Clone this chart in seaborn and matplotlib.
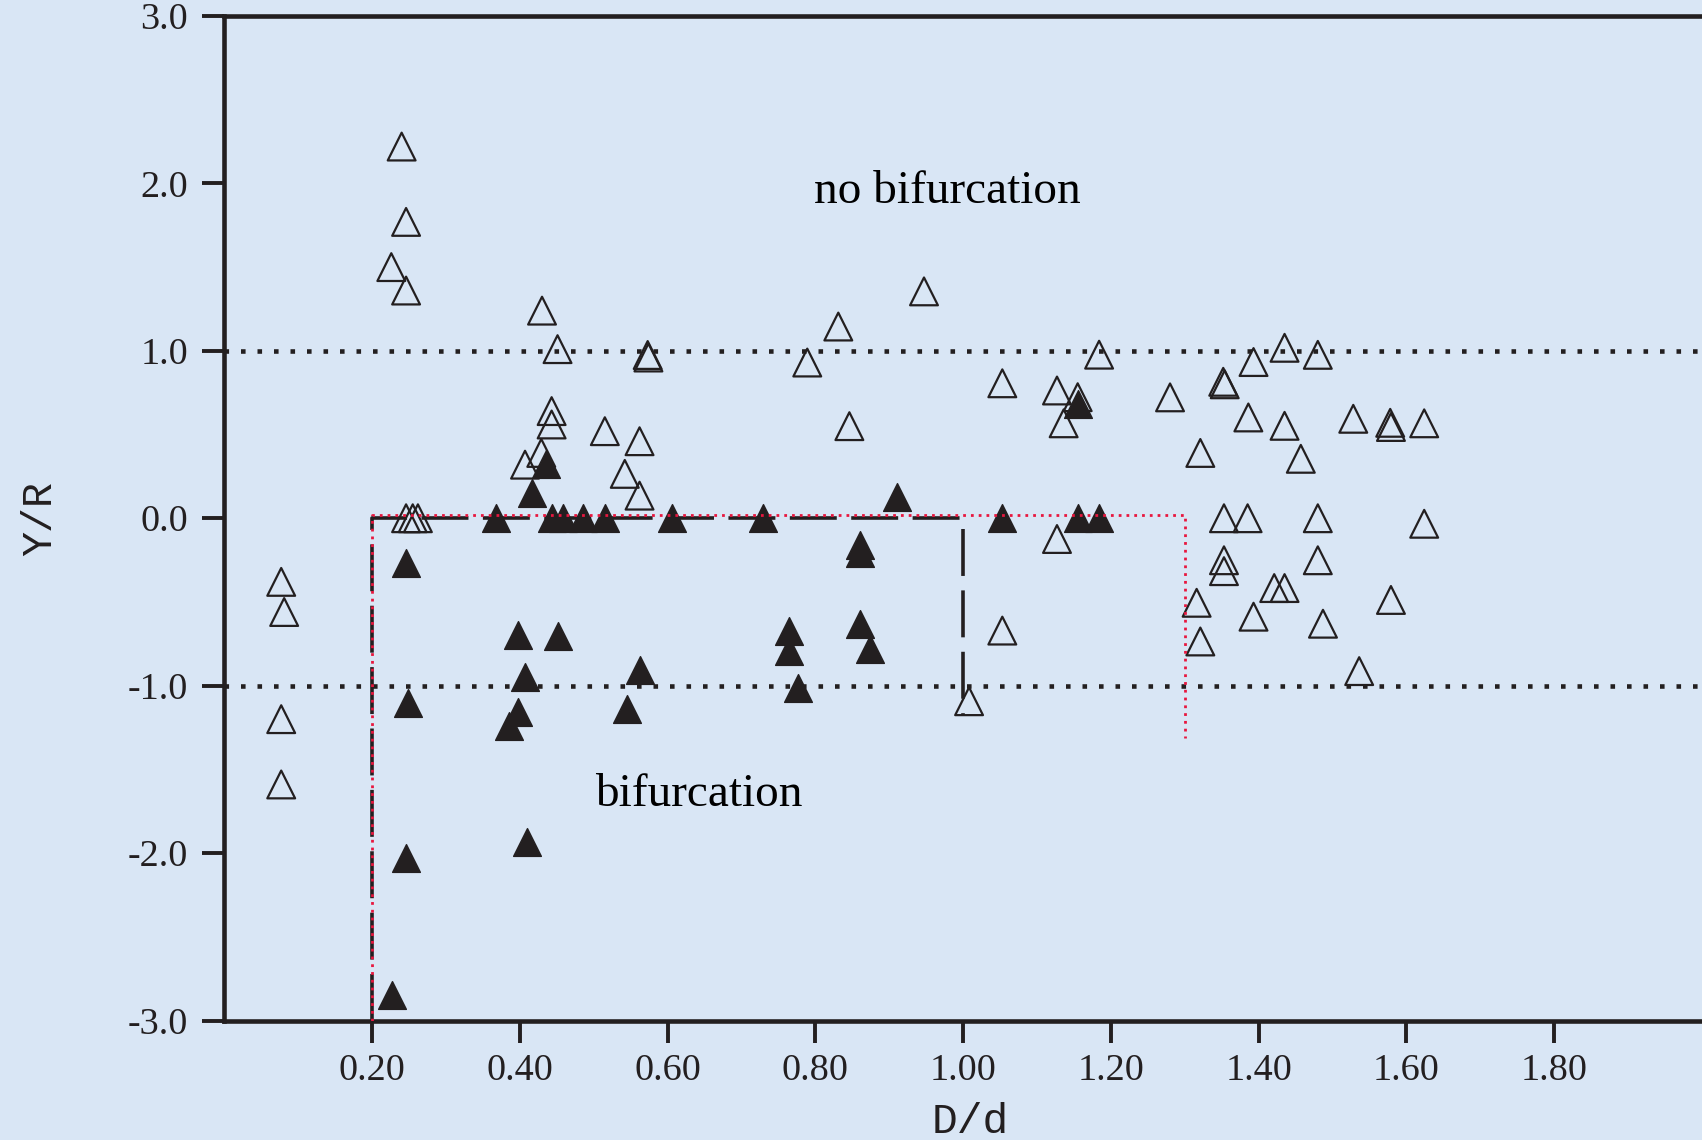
import matplotlib
matplotlib.use("Agg")
import matplotlib.pyplot as plt
import seaborn as sns
import pandas as pd

# points (D/d, Y/R)
# open triangles = no bifurcation
open_x = [0.240, 0.246, 0.226, 0.246, 0.430, 0.451, 0.573, 0.574, 0.443, 0.443,
          0.515, 0.562, 0.407, 0.429, 0.542, 0.562, 0.246, 0.255, 0.262,
          0.077, 0.081, 0.077, 0.077,
          0.947, 0.831, 0.789, 1.184, 1.053, 1.127, 1.155, 1.136, 0.846,
          1.127, 1.053, 1.008,
          1.435, 1.480, 1.393, 1.352, 1.354, 1.280, 1.386, 1.435, 1.528,
          1.578, 1.579, 1.624, 1.321, 1.457, 1.353, 1.385, 1.480, 1.624,
          1.353, 1.353, 1.480, 1.421, 1.435, 1.579, 1.316, 1.393, 1.487,
          1.321, 1.536]
open_y = [2.22, 1.77, 1.50, 1.36, 1.24, 1.01, 0.975, 0.96, 0.64, 0.56,
          0.52, 0.46, 0.32, 0.39, 0.265, 0.135, 0.0, 0.0, 0.0,
          -0.38, -0.56, -1.20, -1.59,
          1.355, 1.145, 0.93, 0.977, 0.806, 0.763, 0.723, 0.567, 0.55,
          -0.124, -0.671, -1.093,
          1.018, 0.976, 0.933, 0.815, 0.80, 0.722, 0.602, 0.552, 0.594,
          0.57, 0.545, 0.567, 0.39, 0.355, 0.0, 0.0, 0.0, -0.033,
          -0.251, -0.316, -0.251, -0.417, -0.417, -0.488, -0.505, -0.588, -0.63,
          -0.736, -0.913]

# filled triangles = bifurcation
filled_x = [0.436, 0.416, 0.368, 0.443, 0.459, 0.485, 0.515, 0.606,
            0.246, 0.249, 0.246, 0.227,
            0.397, 0.451, 0.407, 0.397, 0.385, 0.409, 0.562, 0.545,
            1.155, 0.911, 0.729, 1.053, 1.155, 1.184,
            0.861, 0.861, 0.764, 0.764, 0.861, 0.874, 0.776]
filled_y = [0.324, 0.151, 0.0, 0.0, 0.0, 0.0, 0.0, 0.0,
            -0.268, -1.103, -2.03, -2.848,
            -0.695, -0.701, -0.947, -1.159, -1.238, -1.935, -0.907, -1.137,
            0.681, 0.129, 0.0, 0.0, 0.0, 0.0,
            -0.161, -0.205, -0.671, -0.795, -0.63, -0.781, -1.012]

x_ticks = [0.20, 0.40, 0.60, 0.80, 1.00, 1.20, 1.40, 1.60, 1.80]
y_ticks = [-3.0, -2.0, -1.0, 0.0, 1.0, 2.0, 3.0]

# region boundaries
dash_x = [0.2, 0.2, 1.0, 1.0]
dash_y = [-3.0, 0.0, 0.0, -1.18]
red_x = [0.2, 0.2, 1.3, 1.3]
red_y = [-3.0, 0.02, 0.02, -1.31]
ref_levels = [1.0, -1.0]

bg = "#d9e6f5"
ink = "#231f20"

sns.set_style("ticks")
plt.rcParams["font.family"] = ["Liberation Serif", "DejaVu Serif"]

fig = plt.figure(figsize=(17.02, 11.40), dpi=100, facecolor=bg)
ax = fig.add_axes([0.1318, 0.1048, 0.8682, 0.8812])
ax.set_facecolor(bg)

df_open = pd.DataFrame({"x": open_x, "y": open_y})
df_fill = pd.DataFrame({"x": filled_x, "y": filled_y})

for lvl in ref_levels:
    ax.axhline(lvl, color=ink, lw=3.3, linestyle=(0, (1, 2.6)), zorder=1)
ax.plot(dash_x, dash_y, color=ink, lw=2.6, linestyle=(0, (13, 4)), zorder=1)

sns.scatterplot(data=df_open, x="x", y="y", marker="^", s=400,
                facecolor="none", edgecolor=ink, linewidth=1.6, ax=ax, zorder=2)
sns.scatterplot(data=df_fill, x="x", y="y", marker="^", s=400,
                color=ink, edgecolor=ink, linewidth=1.0, ax=ax, zorder=3)

ax.plot(red_x, red_y, color="#e8173f", lw=2.0, linestyle=(0, (1, 1.8)), zorder=4)

ax.text(0.979, 1.88, "no bifurcation", ha="center", va="baseline", fontsize=34, color="black")
ax.text(0.642, -1.72, "bifurcation", ha="center", va="baseline", fontsize=34, color="black")

ax.set_xlim(0, 2.0)
ax.set_ylim(-3.0, 3.0)
ax.set_xticks(x_ticks)
ax.set_xticklabels([f"{v:.2f}" for v in x_ticks])
ax.set_yticks(y_ticks)
ax.set_yticklabels([f"{v:.1f}" for v in y_ticks])
ax.tick_params(axis="both", direction="out", length=16, width=2.8, color=ink,
               labelsize=27.5, labelcolor=ink)
ax.tick_params(axis="x", pad=8)
ax.tick_params(axis="y", pad=10)

for side in ["left", "bottom", "top"]:
    ax.spines[side].set_linewidth(3.3)
    ax.spines[side].set_color(ink)
ax.spines["right"].set_visible(False)

ax.set_xlabel("D/d", fontfamily=["Liberation Mono"], fontsize=31, color=ink)
ax.set_ylabel("Y/R", fontfamily=["Liberation Mono"], fontsize=30, color=ink)
ax.xaxis.set_label_coords(0.505, -0.081)
ax.yaxis.set_label_coords(-0.111, 0.5)

fig.savefig("out.png", dpi=100, facecolor=bg)
